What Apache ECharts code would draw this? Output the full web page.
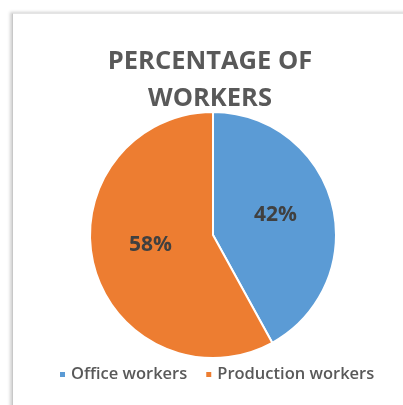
<!DOCTYPE html>
<html><head><meta charset="utf-8">
<script src="https://cdn.jsdelivr.net/npm/echarts@6/dist/echarts.min.js"></script>
<style>
html,body{margin:0;padding:0;width:403px;height:405px;overflow:hidden;background:#fff;}
#frame{position:absolute;left:12px;top:13px;width:420px;height:420px;background:#fff;border-left:1px solid #c8c8c8;border-top:1px solid #e4e4e4;box-shadow:-2px -1px 3px rgba(0,0,0,0.18);}
#c{position:absolute;left:0;top:0;width:403px;height:405px;}
</style></head>
<body>
<div id="frame"></div>
<div id="c"></div>
<script>
const titleText = 'PERCENTAGE OF\nWORKERS';
const categories = ['Office workers', 'Production workers'];
const values = [42, 58];
const colors = ['#5B9BD5', '#ED7D31'];

const chart = echarts.init(document.getElementById('c'), null, {renderer: 'canvas'});
chart.setOption({
  backgroundColor: 'transparent',
  animation: false,
  title: {
    text: titleText,
    left: 205, top: 38, textAlign: 'center',
    textStyle: {fontFamily: 'Open Sans', fontWeight: 'bold', fontSize: 25.5, color: '#595959', lineHeight: 37}
  },
  legend: {
    data: categories,
    bottom: 17, left: 53,
    itemWidth: 7, itemHeight: 7, itemGap: 17, padding: [5, 5, 5, 5],
    icon: 'rect',
    textStyle: {fontFamily: 'Open Sans', fontWeight: 600, fontSize: 16.5, color: '#595959'}
  },
  series: [{
    type: 'pie',
    center: [213, 235],
    radius: 123,
    startAngle: 90,
    clockwise: true,
    color: colors,
    itemStyle: {borderColor: '#fff', borderWidth: 2},
    label: {
      position: 'inside',
      formatter: '{c}%',
      fontFamily: 'Open Sans', fontWeight: 'bold', fontSize: 21, color: '#404040'
    },
    labelLine: {show: false},
    emphasis: {disabled: true},
    data: [
      {name: categories[0], value: values[0], label: {offset: [0, -4]}},
      {name: categories[1], value: values[1], label: {offset: [0, -6]}}
    ]
  }]
});
</script>
</body></html>
